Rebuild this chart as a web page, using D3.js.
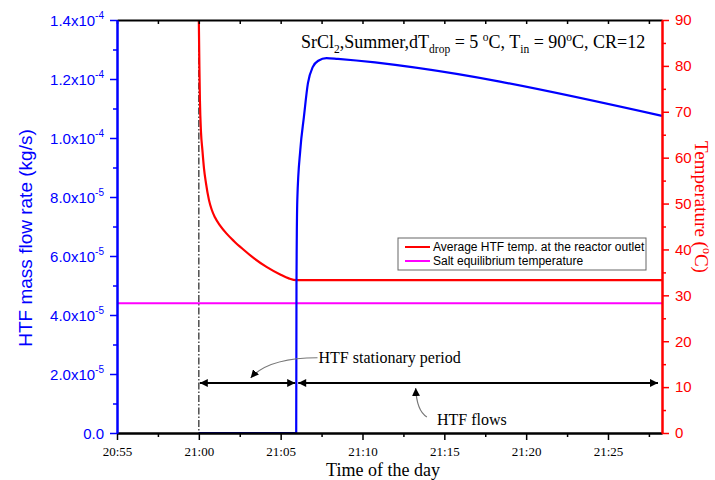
<!DOCTYPE html>
<html>
<head>
<meta charset="utf-8">
<script src="https://cdn.jsdelivr.net/npm/d3@7"></script>
<style>
body{margin:0;background:#fff}
</style>
</head>
<body>
<div id="chart"></div>
<script>
// average HTF temperature at the reactor outlet (right axis, degC)
var redTimes=['21:00:00','21:00:02','21:00:04','21:00:08','21:00:13','21:00:19','21:00:26','21:00:37','21:00:47','21:00:59','21:01:18','21:01:41','21:02:09','21:02:41','21:03:24','21:04:08','21:05:00','21:05:30','21:05:57','21:28:18'];
var redTemps=[90,80,72.5,65.5,61.7,57.6,54.5,50.8,48.7,47.0,45.2,43.5,41.8,40.1,38.0,36.2,34.5,33.7,33.3,33.3];
// HTF mass flow rate (left axis, kg/s)
var blueTimes=['21:00:00','21:05:57','21:05:58','21:06:01','21:06:12','21:06:25','21:06:40','21:06:58','21:07:18','21:07:48','21:08:30','21:28:18'];
var blueFlows=[0,0,5.0e-5,7.9e-5,9.6e-5,1.07e-4,1.186e-4,1.241e-4,1.262e-4,1.271e-4,1.268e-4,1.075e-4];
var saltTemp=28.3;	//salt equilibrium temperature

var flowTicks=[0,2e-5,4e-5,6e-5,8e-5,1e-4,1.2e-4,1.4e-4];
var flowMinor=[1e-5,3e-5,5e-5,7e-5,9e-5,1.1e-4,1.3e-4];
var tempTicks=[0,10,20,30,40,50,60,70,80,90];
var tempMinor=[5,15,25,35,45,55,65,75,85];
var timeRange=['20:55:00','21:28:18'];
var stopTime='21:00:00', flowTime='21:05:57';
var arrowTemp=10.9;
var legendLabels=['Average HTF temp. at the reactor outlet','Salt equilibrium temperature'];
var legendColors=['#ff0000','#ff00ff'];

var W=715,H=480,
	m={left:117,right:53,top:20,bottom:47},
	pw=W-m.left-m.right,
	ph=H-m.top-m.bottom,
	ARIAL='"Liberation Sans",Arial,sans-serif',
	TIMES='"Liberation Serif","Times New Roman",serif',
	parse=d3.timeParse('%H:%M:%S');

var svg=d3.select('#chart').append('svg').attr('width',W).attr('height',H);
var defs=svg.append('defs');
defs.append('marker').attr('id','ah').attr('viewBox','0 0 10 10').attr('refX',10).attr('refY',5)
	.attr('markerUnits','userSpaceOnUse').attr('markerWidth',12).attr('markerHeight',8)
	.attr('orient','auto-start-reverse')
	.append('path').attr('d','M0,0L10,5L0,10z').attr('fill','#000');
defs.append('marker').attr('id','ahs').attr('viewBox','0 0 10 10').attr('refX',10).attr('refY',5)
	.attr('markerUnits','userSpaceOnUse').attr('markerWidth',8).attr('markerHeight',8)
	.attr('orient','auto')
	.append('path').attr('d','M0,0L10,5L0,10z').attr('fill','#000');

var g=svg.append('g').attr('transform','translate('+m.left+','+m.top+')');

var x=d3.scaleTime().domain(timeRange.map(parse)).range([0,pw]);
var yL=d3.scaleLinear().domain([0,1.4e-4]).range([ph,0]);
var yR=d3.scaleLinear().domain([0,90]).range([ph,0]);

// vertical dash-dot line at the stop time
g.append('line')
	.attr('x1',x(parse(stopTime))).attr('x2',x(parse(stopTime)))
	.attr('y1',0).attr('y2',ph)
	.attr('stroke','#333').attr('stroke-width',1.3).attr('stroke-dasharray','7,2,1.5,2');

// salt equilibrium line
g.append('line').attr('x1',0).attr('x2',pw)
	.attr('y1',yR(saltTemp)).attr('y2',yR(saltTemp))
	.attr('stroke','#ff00ff').attr('stroke-width',2);

// red temperature line
var redData=redTimes.map(function(t,i){return [parse(t),redTemps[i]]});
g.append('path').datum(redData)
	.attr('d',d3.line().x(function(d){return x(d[0])}).y(function(d){return yR(d[1])}).curve(d3.curveMonotoneX))
	.attr('fill','none').attr('stroke','#ff0000').attr('stroke-width',2.2);

// blue flow line
var blueData=blueTimes.map(function(t,i){return [parse(t),blueFlows[i]]});
g.append('path').datum(blueData)
	.attr('d',d3.line().x(function(d){return x(d[0])}).y(function(d){return yL(d[1])}).curve(d3.curveMonotoneX))
	.attr('fill','none').attr('stroke','#0000ff').attr('stroke-width',2.2);

// period arrows
var ay=yR(arrowTemp);
g.append('line').attr('x1',x(parse(stopTime))+1).attr('x2',x(parse(flowTime))-1)
	.attr('y1',ay).attr('y2',ay).attr('stroke','#000').attr('stroke-width',2)
	.attr('marker-start','url(#ah)').attr('marker-end','url(#ah)');
g.append('line').attr('x1',x(parse(flowTime))+2).attr('x2',pw-4)
	.attr('y1',ay).attr('y2',ay).attr('stroke','#000').attr('stroke-width',2)
	.attr('marker-start','url(#ah)').attr('marker-end','url(#ah)');

// annotation leaders
function pt(t,v){return [x(parse(t)),yR(v)]}
var s0=pt('21:07:15',16.4), s1=pt('21:03:10',12.0);
g.append('path').attr('d','M'+s0+'Q'+[s1[0]+18,s0[1]]+' '+s1)
	.attr('fill','none').attr('stroke','#777').attr('stroke-width',1.2).attr('marker-end','url(#ahs)');
g.append('text').attr('x',s0[0]+1).attr('y',yR(15.2))
	.attr('font-family',TIMES).attr('font-size',16).text('HTF stationary period');

var f0=pt('21:13:56',3.5), f1=pt('21:13:15',9.8);
g.append('path').attr('d','M'+f0+'Q'+[f1[0]+1,f0[1]-6]+' '+f1)
	.attr('fill','none').attr('stroke','#777').attr('stroke-width',1.2).attr('marker-end','url(#ahs)');
g.append('text').attr('x',x(parse('21:14:33'))).attr('y',yR(1.7))
	.attr('font-family',TIMES).attr('font-size',16).text('HTF flows');

// axes
function styleAxis(a,color,w){
	a.attr('font-family',null).attr('font-size',null);
	a.select('.domain').attr('stroke',color).attr('stroke-width',w);
	a.selectAll('.tick line').attr('stroke',color).attr('stroke-width',1.5);
}
var minorTimes=x.ticks(d3.timeMinute.every(5)).map(function(d){return d3.timeSecond.offset(d,150)})
	.filter(function(d){return d<x.domain()[1]});

var gx=g.append('g').attr('transform','translate(0,'+ph+')')
	.call(d3.axisBottom(x).ticks(d3.timeMinute.every(5)).tickFormat(d3.timeFormat('%H:%M')).tickSize(7).tickPadding(7).tickSizeOuter(0));
styleAxis(gx,'#000',2);
gx.selectAll('text').attr('font-family',TIMES).attr('font-size',13).attr('fill','#000');
var gxm=g.append('g').attr('transform','translate(0,'+ph+')')
	.call(d3.axisBottom(x).tickValues(minorTimes).tickFormat('').tickSize(4).tickSizeOuter(0));
styleAxis(gxm,'#000',2);

var gt=g.append('g').call(d3.axisTop(x).tickValues(x.ticks(d3.timeMinute.every(5)).concat(minorTimes)).tickFormat('').tickSize(-4).tickSizeOuter(0));
styleAxis(gt,'#000',2);

var gl=g.append('g').call(d3.axisLeft(yL).tickValues(flowTicks).tickSize(7).tickPadding(6).tickSizeOuter(0)
	.tickFormat(function(){return ''}));
styleAxis(gl,'#0000ff',2);
gl.selectAll('.tick text').each(function(d){
	var t=d3.select(this).attr('font-family',ARIAL).attr('font-size',15).attr('fill','#0000ff').attr('dy','0.35em');
	if(d===0){t.text('0.0');return}
	var e=Math.floor(Math.log10(d)+1e-9), mant=d/Math.pow(10,e);
	t.append('tspan').text(mant.toFixed(1)+'x10');
	t.append('tspan').attr('font-size',10).attr('dy',-7).text('-'+(-e));
});
var glm=g.append('g').call(d3.axisLeft(yL).tickValues(flowMinor).tickFormat('').tickSize(4).tickSizeOuter(0));
styleAxis(glm,'#0000ff',2);

var gr=g.append('g').attr('transform','translate('+pw+',0)')
	.call(d3.axisRight(yR).tickValues(tempTicks).tickSize(7).tickPadding(6).tickSizeOuter(0));
styleAxis(gr,'#ff0000',2);
gr.selectAll('text').attr('font-family',ARIAL).attr('font-size',15).attr('fill','#ff0000');
var grm=g.append('g').attr('transform','translate('+pw+',0)')
	.call(d3.axisRight(yR).tickValues(tempMinor).tickFormat('').tickSize(4).tickSizeOuter(0));
styleAxis(grm,'#ff0000',2);

// axis titles
svg.append('text').attr('transform','translate(32,238) rotate(-90)').attr('text-anchor','middle')
	.attr('font-family',ARIAL).attr('font-size',19).attr('fill','#0000ff').text('HTF mass flow rate (kg/s)');
var rt=svg.append('text').attr('transform','translate(695,207) rotate(90)').attr('text-anchor','middle')
	.attr('font-family',TIMES).attr('font-size',19).attr('fill','#ff0000');
rt.append('tspan').text('Temperature (');
rt.append('tspan').attr('font-size',12).attr('dy',-8).text('o');
rt.append('tspan').attr('dy',8).text('C)');
svg.append('text').attr('x',m.left+266).attr('y',476).attr('text-anchor','middle')
	.attr('font-family',TIMES).attr('font-size',18).text('Time of the day');

// title
var tt=svg.append('text').attr('x',301).attr('y',48).attr('font-family',TIMES).attr('font-size',18);
[['SrCl',0,18],['2',5,11.5],[',Summer,dT',-5,18],['drop',5,11.5],[' = 5 ',-5,18],['o',-7,11.5],['C, T',7,18],['in',5,11.5],[' = 90',-5,18],['o',-7,11.5],['C, CR=12',7,18]]
	.forEach(function(p){tt.append('tspan').attr('dy',p[1]).attr('font-size',p[2]).text(p[0])});

// legend
var lg=svg.append('g').attr('transform','translate(398,238)');
lg.append('rect').attr('width',248).attr('height',32).attr('fill','#fff').attr('stroke','#666').attr('stroke-width',1);
legendLabels.forEach(function(l,i){
	var yy=9+i*14;
	lg.append('line').attr('x1',7).attr('x2',32).attr('y1',yy).attr('y2',yy).attr('stroke',legendColors[i]).attr('stroke-width',2);
	lg.append('text').attr('x',35).attr('y',yy+4).attr('font-family',ARIAL).attr('font-size',12).text(l);
});
</script>
</body>
</html>
